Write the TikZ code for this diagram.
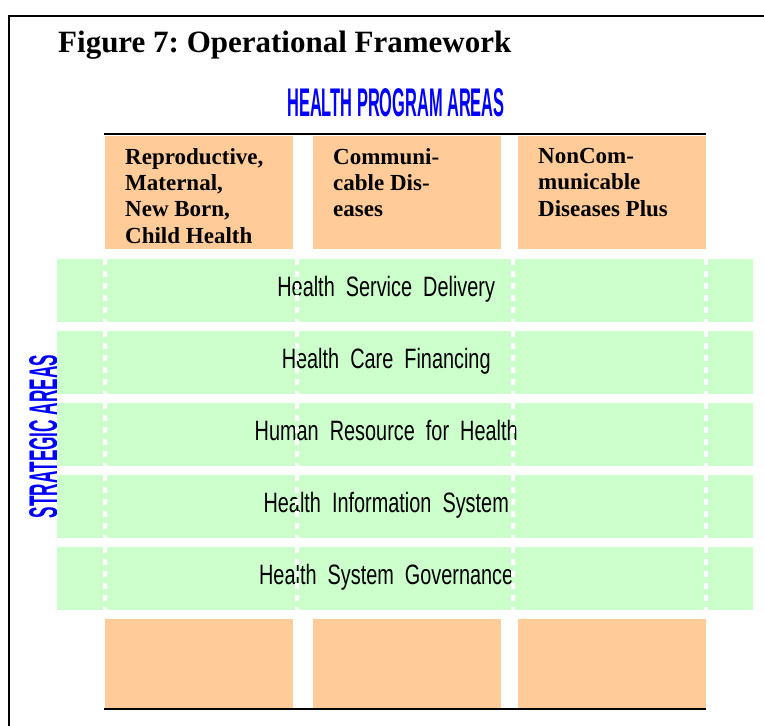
\documentclass[tikz,border=0pt]{standalone}
\usepackage{fontspec}
\usepackage{graphicx}
\setmainfont{Liberation Serif}
\newfontfamily\rowfont{Liberation Sans}
\usetikzlibrary{positioning}
\frenchspacing

\definecolor{peach}{HTML}{FFCC99}
\definecolor{mint}{HTML}{CCFFCC}
\definecolor{areablue}{HTML}{0000FF}

\begin{document}
\begin{tikzpicture}[x=1pt, y=-1pt]
		\tikzstyle {program box} = [fill=peach, inner sep=0pt, anchor=north west, minimum width=188pt, minimum height=113pt]
		\tikzstyle {program text} = [inner sep=0pt, anchor=north west, align=left, font=\bfseries\fontsize{23}{26.3}\selectfont]
		\tikzstyle {strategy band} = [fill=mint, inner sep=0pt, anchor=north west, minimum width=696pt, minimum height=63pt]
		\tikzstyle {strategy text} = [inner sep=0pt, anchor=base, xscale=0.71, font=\rowfont\fontsize{28}{30}\selectfont]
		\tikzstyle {area title} = [inner sep=0pt, text=areablue, font=\rowfont\bfseries\fontsize{40}{40}\selectfont]
		\tikzstyle {column gap} = [white, line width=4.5pt, dash pattern=on 5.5pt off 6.5pt]

		\useasboundingbox (0,0) rectangle (764,726);

		% frame
		\draw[line width=2pt] (9,726) -- (9,16) -- (764,16);
		\node[inner sep=0pt, anchor=base west, font=\bfseries\fontsize{31}{33}\selectfont] (title) at (58,52) {Figure 7: Operational Framework};

		\node[area title, anchor=base, xscale=0.41] (programs) at (396,116) {HEALTH PROGRAM AREAS};
		\node[area title, rotate=90, xscale=0.43, anchor=base] (strategies) at (57,436.5) {STRATEGIC AREAS};

		% program areas, top
		\node[program box] (rmnch) at (105,136) {};
		\node[program box] (cd) at (313,136) {};
		\node[program box] (ncd) at (518,136) {};
		\draw[line width=2pt] (rmnch.north west) ++(-1,-2) -- ([shift={(0,-2)}]ncd.north east);

		\node[program text] (rmnch text) at ([shift={(20,12)}]rmnch.north west) {Reproductive,\\Maternal,\\New Born,\\Child Health};
		\node[program text] (cd text) at ([shift={(20,12)}]cd.north west) {Communi-\\cable Dis-\\eases};
		\node[program text] (ncd text) at ([shift={(20,12)}]ncd.north west) {NonCom-\\municable\\Diseases Plus};

		% strategic areas
		\node[strategy band] (delivery) at (57,259) {};
		\node[strategy band] (financing) at (57,331) {};
		\node[strategy band] (hrh) at (57,403) {};
		\node[strategy band] (his) at (57,475) {};
		\node[strategy band] (governance) at (57,547) {};

		\node[strategy text] (delivery text) at ([shift={(-19,5.5)}]delivery.center) {Health\ \ Service\ \ Delivery};
		\node[strategy text] (financing text) at ([shift={(-19,5.5)}]financing.center) {Health\ \ Care\ \ Financing};
		\node[strategy text] (hrh text) at ([shift={(-19,5.5)}]hrh.center) {Human\ \ Resource\ \ for\ \ Health};
		\node[strategy text] (his text) at ([shift={(-19,5.5)}]his.center) {Health\ \ Information\ \ System};
		\node[strategy text] (governance text) at ([shift={(-19,5.5)}]governance.center) {Health\ \ System\ \ Governance};

		% program areas, bottom
		\node[program box, minimum height=89pt] (rmnch base) at (105,619) {};
		\node[program box, minimum height=89pt] (cd base) at (313,619) {};
		\node[program box, minimum height=89pt] (ncd base) at (518,619) {};
		\draw[line width=2pt] (rmnch base.south west) ++(-1,1) -- ([shift={(0,1)}]ncd base.south east);

		% dotted column lines across the bands
		\draw[column gap] (105,259) -- (105,610);
		\draw[column gap] (297,259) -- (297,610);
		\draw[column gap] (513,259) -- (513,610);
		\draw[column gap] (706,259) -- (706,610);
\end{tikzpicture}
\end{document}
